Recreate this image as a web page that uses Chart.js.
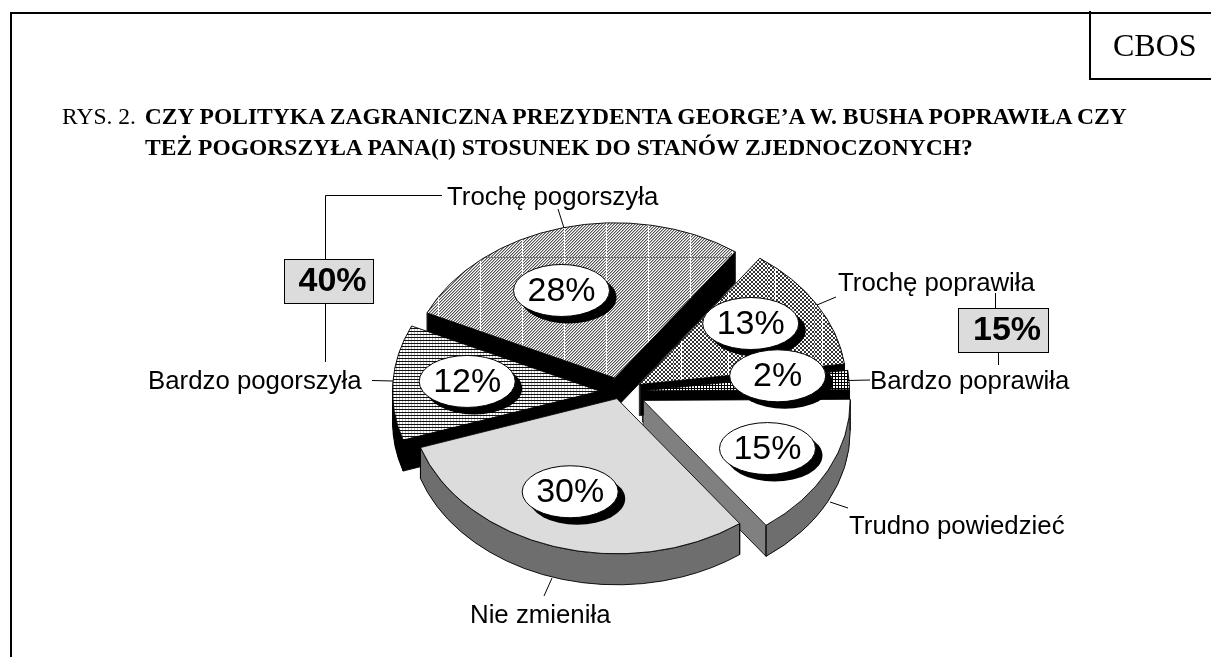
<!DOCTYPE html>
<html lang="pl">
<head>
<meta charset="utf-8">
<title>RYS. 2</title>
<script src="https://cdn.jsdelivr.net/npm/chart.js@4"></script>
<style>
  html, body { margin: 0; padding: 0; background: #fff; overflow: hidden; }
  #wrap { position: relative; width: 1211px; height: 657px; }
  #pieCanvas { position: absolute; left: 0; top: 0; }
  .rule { position: absolute; background: #000; }
  .head { position: absolute; white-space: nowrap; color: #000; font-family: "Liberation Serif", serif; }
  .head.t { font-size: 23.55px; line-height: 28px; }
</style>
</head>
<body>
<div id="wrap">
  <canvas id="pieCanvas" width="1211" height="657"></canvas>
  <div class="rule" style="left:10px;top:12px;width:2px;height:645px"></div>
  <div class="rule" style="left:10px;top:12px;width:1201px;height:2px"></div>
  <div class="rule" style="left:1089px;top:11px;width:2px;height:68px"></div>
  <div class="rule" style="left:1089px;top:78px;width:122px;height:2px"></div>
  <div class="head" style="left:1113px;top:27px;font-size:32px;line-height:36px">CBOS</div>
  <div class="head t" style="left:62px;top:102px">RYS. 2. <b style="margin-left:3px">CZY POLITYKA ZAGRANICZNA PREZYDENTA GEORGE’A W. BUSHA POPRAWIŁA CZY</b></div>
  <div class="head t" style="left:145px;top:133px"><b>TEŻ POGORSZYŁA PANA(I) STOSUNEK DO STANÓW ZJEDNOCZONYCH?</b></div>
</div>
<script>
// kolejność zgodnie z ruchem wskazówek zegara, od prawej
const categories = ["Trudno powiedzieć", "Nie zmieniła", "Bardzo pogorszyła", "Trochę pogorszyła", "Trochę poprawiła", "Bardzo poprawiła"];
const values = [15, 30, 12, 28, 13, 2];
const sumLabels = ["40%", "15%"];

// wygląd wycinków
const TILT = 0.75;
const DEPTH = 31;
const RADIUS = 207;
const explode = [22, 12, 22, 22, 22, 22];
const sliceNudge = [[0, 1], [-3, -2], [-2, 0], [-3, 2], [-3, 1], [-3, 0]];
const sideColors = ["#808080", "#808080", "#000", "#000", "#000", "#000"];
const rimColors = ["#6e6e6e", "#6e6e6e", "#000", "#000", "#000", "#000"];
const drawOrder = [3, 4, 5, 2, 0, 1];
const labelNudge = [[4, 3], [-6, -3], [2, -4], [-19, 10], [-4, -9], [1, -8]];

// wzór kafelka, tak by piksele nie były ściśnięte przez pochylenie koła
function tile(w, h, paint) {
  const c = document.createElement("canvas");
  c.width = w;
  c.height = h;
  const g = c.getContext("2d");
  g.fillStyle = "#fff";
  g.fillRect(0, 0, w, h);
  paint(g);
  const p = g.createPattern(c, "repeat");
  p.setTransform(new DOMMatrix().scale(1, 1 / TILT));
  return p;
}

const hatch12 = tile(3, 3, (g) => {
  g.fillStyle = "#bbb";
  g.fillRect(0, 1, 1, 2);
  g.fillStyle = "#111";
  g.fillRect(0, 0, 3, 1);
});

const hatch28 = tile(42, 400, (g) => {
  for (let y = 0; y < 400; y++) {
    for (let x = 0; x < 42; x++) {
      const m = (x + y) % 3;
      g.fillStyle = m === 0 ? "#555" : m === 1 ? "#b4b4b4" : "#fff";
      g.fillRect(x, y, 1, 1);
    }
  }
  g.fillStyle = "#fff";
  g.fillRect(27, 0, 1, 400);
  g.fillStyle = "#777";
  g.fillRect(0, 173, 42, 1);
});

const hatch13 = tile(47, 4, (g) => {
  g.fillStyle = "#333";
  for (let y = 0; y < 4; y++) {
    for (let x = 0; x < 47; x++) {
      if ((Math.floor(x / 2) + Math.floor(y / 2)) % 2 === 0) g.fillRect(x, y, 1, 1);
    }
  }
  g.fillStyle = "#fff";
  g.fillRect(7, 0, 1, 4);
});

const hatch2 = tile(3, 3, (g) => {
  g.fillStyle = "#000";
  g.fillRect(0, 0, 3, 1);
  g.fillRect(0, 0, 1, 3);
});

const fills = ["#ffffff", "#dcdcdc", hatch12, hatch28, hatch13, hatch2];

// pochylenie koła wokół jego środka
function tiltAround(ctx, cy) {
  ctx.translate(0, cy);
  ctx.scale(1, TILT);
  ctx.translate(0, -cy);
}

function wedgeOrigin(arc, i) {
  const mid = (arc.startAngle + arc.endAngle) / 2;
  return {
    x: arc.x + Math.cos(mid) * explode[i] + sliceNudge[i][0],
    y: arc.y + Math.sin(mid) * explode[i] + sliceNudge[i][1] / TILT,
    mid,
  };
}

const pie3d = {
  id: "pie3d",
  // wycinki rysujemy sami: najpierw ścianki, potem elementy Chart.js przesunięte od środka
  beforeDatasetDraw(chart) {
    const ctx = chart.ctx;
    const arcs = chart.getDatasetMeta(0).data;
    const h = DEPTH / TILT;
    ctx.save();
    ctx.imageSmoothingEnabled = false;
    tiltAround(ctx, arcs[0].y);
    drawOrder.forEach((i) => {
      const a = arcs[i];
      const o = wedgeOrigin(a, i);
      const r = a.outerRadius;
      ctx.fillStyle = sideColors[i];
      ctx.strokeStyle = "#000";
      ctx.lineWidth = 1;
      for (let d = h; d > 0; d -= 1) {
        ctx.beginPath();
        ctx.moveTo(o.x, o.y + d);
        ctx.arc(o.x, o.y + d, r, a.startAngle, a.endAngle);
        ctx.closePath();
        ctx.fill();
      }
      // zewnętrzna ścianka
      const from = Math.max(a.startAngle, 0);
      const to = Math.min(a.endAngle, Math.PI);
      if (to > from) {
        ctx.beginPath();
        ctx.arc(o.x, o.y, r, from, to);
        ctx.arc(o.x, o.y + h, r, to, from, true);
        ctx.closePath();
        ctx.fillStyle = rimColors[i];
        ctx.fill();
        ctx.stroke();
      }
      // pionowe krawędzie
      [a.startAngle, a.endAngle].forEach((ang) => {
        const ex = o.x + Math.cos(ang) * r;
        const ey = o.y + Math.sin(ang) * r;
        ctx.beginPath();
        ctx.moveTo(ex, ey);
        ctx.lineTo(ex, ey + h);
        ctx.stroke();
      });
      ctx.beginPath();
      ctx.moveTo(o.x, o.y);
      ctx.lineTo(o.x, o.y + h);
      ctx.stroke();
      // dolne krawędzie tylko te, które patrzą w dół
      [[a.startAngle, a.startAngle - Math.PI / 2], [a.endAngle, a.endAngle + Math.PI / 2]].forEach((e) => {
        if (Math.sin(e[1]) <= 0) return;
        ctx.beginPath();
        ctx.moveTo(o.x, o.y + h);
        ctx.lineTo(o.x + Math.cos(e[0]) * r, o.y + h + Math.sin(e[0]) * r);
        ctx.stroke();
      });
    });
    arcs.forEach((a, i) => {
      const o = wedgeOrigin(a, i);
      ctx.save();
      ctx.translate(o.x - a.x, o.y - a.y);
      a.draw(ctx);
      ctx.restore();
    });
    ctx.restore();
    return false;
  },
  afterDatasetsDraw(chart) {
    const ctx = chart.ctx;
    const arcs = chart.getDatasetMeta(0).data;

    // owalne etykiety z procentami
    arcs.forEach((a, i) => {
      const o = wedgeOrigin(a, i);
      const x = o.x + Math.cos(o.mid) * RADIUS * 0.65 + labelNudge[i][0];
      const y = a.y + (o.y - a.y + Math.sin(o.mid) * RADIUS * 0.65) * TILT + labelNudge[i][1];
      ctx.fillStyle = "#000";
      ctx.beginPath();
      ctx.ellipse(x + 7, y + 7, 48, 26, 0, 0, Math.PI * 2);
      ctx.fill();
      ctx.fillStyle = "#fff";
      ctx.strokeStyle = "#000";
      ctx.lineWidth = 1;
      ctx.beginPath();
      ctx.ellipse(x, y, 48, 26, 0, 0, Math.PI * 2);
      ctx.fill();
      ctx.stroke();
      ctx.fillStyle = "#000";
      ctx.font = '34px "Liberation Sans"';
      ctx.textAlign = "center";
      ctx.textBaseline = "middle";
      ctx.fillText(values[i] + "%", x, y + 1);
    });

    // linie odniesienia
    ctx.strokeStyle = "#000";
    ctx.lineWidth = 1;
    [
      [442, 195.5, 325.5, 195.5, 325.5, 259],
      [325.5, 303, 325.5, 362],
      [372, 380.5, 393, 381],
      [558, 209, 564, 228],
      [836, 297, 817, 305],
      [995.5, 293, 995.5, 308],
      [998.5, 352, 998.5, 365],
      [848, 380.5, 870, 380],
      [830, 502, 848, 508],
      [552, 578, 544, 596],
    ].forEach((s) => {
      ctx.beginPath();
      ctx.moveTo(s[0], s[1]);
      for (let k = 2; k < s.length; k += 2) ctx.lineTo(s[k], s[k + 1]);
      ctx.stroke();
    });

    // nazwy kategorii
    ctx.fillStyle = "#000";
    ctx.font = '25.8px "Liberation Sans"';
    ctx.textAlign = "left";
    ctx.textBaseline = "middle";
    ctx.fillText(categories[3], 447, 198);
    ctx.fillText(categories[2], 148, 382);
    ctx.fillText(categories[4], 838, 284);
    ctx.fillText(categories[5], 870, 382);
    ctx.fillText(categories[0], 849, 527);
    ctx.fillText(categories[1], 470, 616);

    // sumy w szarych ramkach
    [[284, 259, 89, 44, sumLabels[0]], [958, 308, 90, 44, sumLabels[1]]].forEach((b) => {
      ctx.fillStyle = "#dcdcdc";
      ctx.fillRect(b[0] + 0.5, b[1] + 0.5, b[2], b[3]);
      ctx.strokeRect(b[0] + 0.5, b[1] + 0.5, b[2], b[3]);
      ctx.fillStyle = "#000";
      ctx.font = 'bold 34px "Liberation Sans"';
      ctx.textAlign = "center";
      ctx.fillText(b[4], b[0] + b[2] / 2 + 4, b[1] + b[3] / 2 + 1);
    });
  },
};

new Chart(document.getElementById("pieCanvas"), {
  type: "pie",
  data: {
    labels: categories,
    datasets: [
      {
        data: values,
        backgroundColor: fills,
        borderColor: "#000",
        borderWidth: 1,
        borderAlign: "center",
      },
    ],
  },
  options: {
    responsive: false,
    animation: false,
    rotation: 89.6,
    radius: RADIUS,
    layout: { padding: { left: 36, top: 127 } },
    plugins: { legend: { display: false }, title: { display: false }, tooltip: { enabled: false } },
    events: [],
  },
  plugins: [pie3d],
});
</script>
</body>
</html>
